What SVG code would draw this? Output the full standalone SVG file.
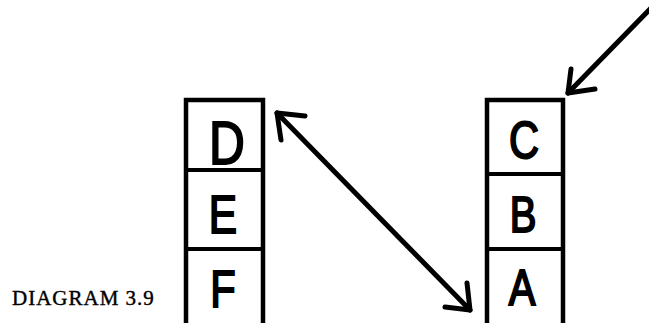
<svg xmlns="http://www.w3.org/2000/svg" width="649" height="323" viewBox="0 0 649 323">
<style>
.box{fill:#fff;stroke:#000;stroke-width:4.5}
.div{stroke:#000;stroke-width:4}
.lt{font-family:"Liberation Sans",Arial,sans-serif;fill:#000;stroke:#000;stroke-width:2;text-anchor:middle}
.cap{font-family:"Liberation Serif","Times New Roman",serif;font-size:21px;letter-spacing:1px;fill:#000;stroke:#000;stroke-width:0.4}
.arr{fill:none;stroke:#000;stroke-width:5;stroke-linecap:round;stroke-linejoin:round}
</style>
<rect width="649" height="323" fill="#fff"/>
<text class="cap" x="12" y="305">DIAGRAM 3.9</text>
<g id="stack-left">
<path class="box" d="M186,326 V100 H263 V326"/>
<line class="div" x1="186" y1="170" x2="263" y2="170"/>
<line class="div" x1="186" y1="249" x2="263" y2="249"/>
<g id="node-D"><text class="lt" x="227" y="164" font-size="62" transform="translate(227 0) scale(0.8 1) translate(-227 0)">D</text></g>
<g id="node-E"><text class="lt" x="223" y="233" font-size="53" transform="translate(223 0) scale(0.8 1) translate(-223 0)">E</text></g>
<g id="node-F"><text class="lt" x="223" y="307" font-size="52" transform="translate(223 0) scale(0.8 1) translate(-223 0)">F</text></g>
</g>
<g id="stack-right">
<path class="box" d="M487,326 V100 H563 V326"/>
<line class="div" x1="487" y1="174" x2="563" y2="174"/>
<line class="div" x1="487" y1="249" x2="563" y2="249"/>
<g id="node-C"><text class="lt" x="524" y="158" font-size="52" transform="translate(524 0) scale(0.8 1) translate(-524 0)">C</text></g>
<g id="node-B"><text class="lt" x="523" y="232" font-size="50" transform="translate(523 0) scale(0.8 1) translate(-523 0)">B</text></g>
<g id="node-A"><text class="lt" x="522" y="305" font-size="50" transform="translate(522 0) scale(0.8 1) translate(-522 0)">A</text></g>
</g>
<g id="connectors">
<path class="arr" d="M653,6 L568,93"/>
<path class="arr" d="M571,69 L568,93 L595,89"/>
<path class="arr" d="M277,113 L470,310"/>
<path class="arr" d="M305,116 L277,113 L281,140"/>
<path class="arr" d="M467,283 L470,310 L445,307"/>
</g>
</svg>
